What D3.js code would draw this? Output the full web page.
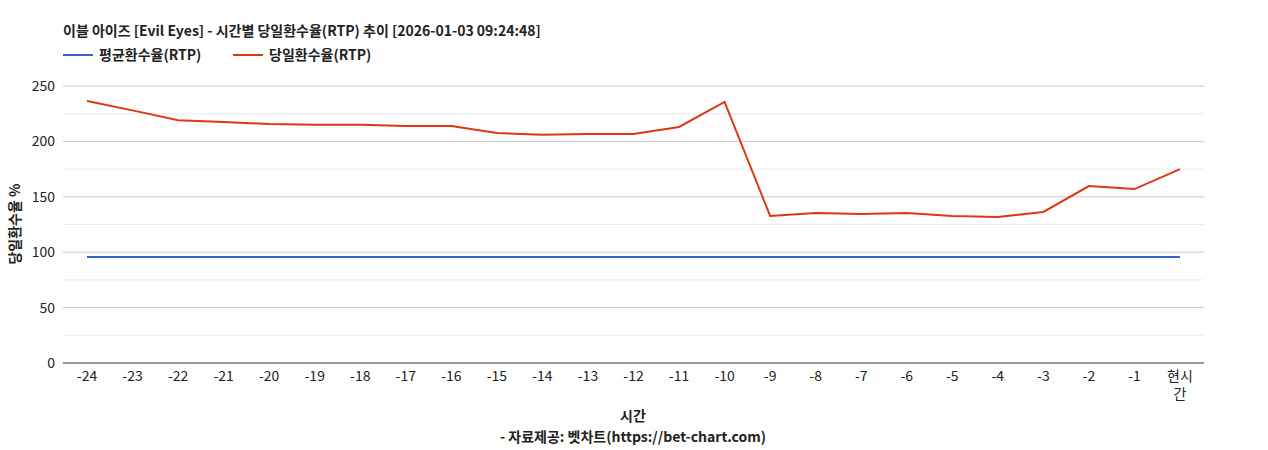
<!DOCTYPE html>
<html><head><meta charset="utf-8">
<script src="https://cdn.jsdelivr.net/npm/d3@7"></script>
<style>body{margin:0;background:#fff;font-family:"Noto Sans CJK KR","Noto Sans",sans-serif}</style>
</head><body><svg id="c" width="1268" height="450"></svg>
<script>
const categories=["-24","-23","-22","-21","-20","-19","-18","-17","-16","-15","-14","-13","-12","-11","-10","-9","-8","-7","-6","-5","-4","-3","-2","-1","현시간"];
const dailyRTP=[236.5,228,219,217.5,215.7,215,215,214,214,207.6,206,206.7,206.7,213,235.6,132.7,135.4,134.5,135.4,132.7,131.8,136.3,159.7,157,175];
const avgRTP=categories.map(()=>95.7);
const yTicks=[0,50,100,150,200,250];
const minorTicks=[25,75,125,175,225];
const svg=d3.select("#c");
const L=63,R=1204,T=86,B=363;
const x=d3.scalePoint().domain(categories).range([87,1180]);
const y=d3.scaleLinear().domain([0,250]).range([B,T]);
svg.append("g").selectAll("line").data(minorTicks).join("line").attr("x1",L).attr("x2",R).attr("y1",d=>y(d)).attr("y2",d=>y(d)).attr("stroke","#ebebeb");
svg.append("g").selectAll("line").data(yTicks.slice(1)).join("line").attr("x1",L).attr("x2",R).attr("y1",d=>y(d)).attr("y2",d=>y(d)).attr("stroke","#cccccc");
svg.append("line").attr("x1",L).attr("x2",R).attr("y1",B).attr("y2",B).attr("stroke","#333");
svg.append("g").selectAll("text").data(yTicks).join("text").attr("x",L-8).attr("y",d=>y(d)+5).attr("text-anchor","end").attr("font-size",14).attr("fill","#222").text(d=>d);
const xl=svg.append("g").selectAll("text").data(categories).join("text").attr("text-anchor","middle").attr("font-size",14).attr("fill","#222").attr("x",d=>x(d)).attr("y",381);
xl.each(function(d){const t=d3.select(this);if(d==="현시간"){t.append("tspan").attr("x",x(d)).text("현시");t.append("tspan").attr("x",x(d)).attr("dy",18).text("간");}else t.text(d);});
const line=d3.line().x((d,i)=>x(categories[i])).y(d=>y(d));
svg.append("path").datum(avgRTP).attr("d",line).attr("fill","none").attr("stroke","#3366cc").attr("stroke-width",2);
svg.append("path").datum(dailyRTP).attr("d",line).attr("fill","none").attr("stroke","#dc3912").attr("stroke-width",2);
svg.append("text").attr("x",63).attr("y",36).attr("font-size",14).attr("font-weight","bold").attr("fill","#222").text("이블 아이즈 [Evil Eyes] - 시간별 당일환수율(RTP) 추이 [2026-01-03 09:24:48]");
const leg=[["평균환수율(RTP)","#3366cc",63],["당일환수율(RTP)","#dc3912",233]];
leg.forEach(([t,c,lx])=>{svg.append("line").attr("x1",lx).attr("x2",lx+30).attr("y1",55).attr("y2",55).attr("stroke",c).attr("stroke-width",2);
svg.append("text").attr("x",lx+36).attr("y",60).attr("font-size",14).attr("font-weight","bold").attr("fill","#222").text(t);});
svg.append("text").attr("transform","translate(20,224) rotate(-90)").attr("text-anchor","middle").attr("font-size",14).attr("font-weight","bold").attr("fill","#222").text("당일환수율 %");
svg.append("text").attr("x",633).attr("y",421).attr("text-anchor","middle").attr("font-size",14).attr("font-weight","bold").attr("fill","#222").text("시간");
svg.append("text").attr("x",633).attr("y",442).attr("text-anchor","middle").attr("font-size",14).attr("font-weight","bold").attr("fill","#222").text("- 자료제공: 벳차트(https://bet-chart.com)");
</script></body></html>
